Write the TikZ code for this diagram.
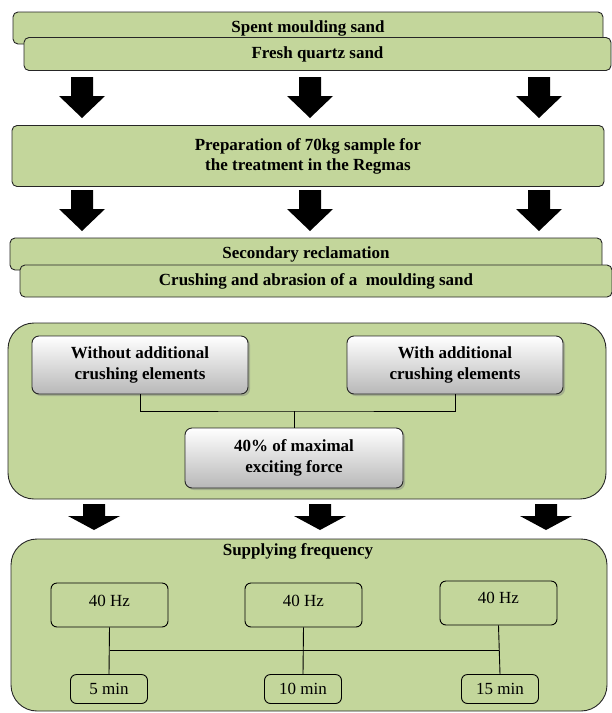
\documentclass[tikz,border=0pt]{standalone}
\usepackage{fontspec}
\setmainfont{Liberation Serif}
\usepackage{xcolor}
\definecolor{sandGreen}{HTML}{C3D69B}
\usetikzlibrary{positioning, shadows}
\tikzset{
	stagebox/.style={draw=black!85, line width=0.9pt, rounded corners=5pt, fill=sandGreen, inner sep=0pt, align=center, font=\fontsize{17}{20}\selectfont\bfseries},
	groupbox/.style={draw=black!85, line width=0.9pt, rounded corners=26pt, fill=sandGreen},
	optionbox/.style={draw=black!85, line width=0.9pt, rounded corners=7pt, top color=white, bottom color=black!28, inner sep=0pt, align=center, font=\fontsize{17}{21}\selectfont\bfseries, drop shadow={opacity=0.45, shadow xshift=2pt, shadow yshift=-2pt}},
	valuebox/.style={draw=black, line width=0.9pt, rounded corners=6pt, inner sep=0pt, font=\fontsize{17}{20}\selectfont},
	flowarr/.style={fill=black},
	linkline/.style={draw=black, line width=0.9pt},
}

\begin{document}
\begin{tikzpicture}[x=1pt, y=-1pt]
	\useasboundingbox (0,0) rectangle (612,713);
	% input sands
	\node[stagebox, minimum width=590pt, minimum height=32pt] (spent) at (308,28) {Spent moulding sand};
	\node[stagebox, minimum width=587pt, minimum height=33pt] (fresh) at (317.5,54) {Fresh quartz sand};
	\foreach \ax in {82,310,539}{
		\fill[flowarr] (\ax-11,77) -- (\ax-11,96) -- (\ax-23,96) -- (\ax,118) -- (\ax+23,96) -- (\ax+11,96) -- (\ax+11,77) -- cycle;
	}
	% sample preparation
	\node[stagebox, minimum width=592pt, minimum height=61pt] (prep) at (308,156) {Preparation of 70kg sample for\\the treatment in the Regmas};
	\foreach \ax in {82,310,539}{
		\fill[flowarr] (\ax-11,190) -- (\ax-11,209) -- (\ax-23,209) -- (\ax,231) -- (\ax+23,209) -- (\ax+11,209) -- (\ax+11,190) -- cycle;
	}
	% reclamation
	\node[stagebox, minimum width=592pt, minimum height=32pt] (secrec) at (306,254) {Secondary reclamation};
	\node[stagebox, minimum width=592pt, minimum height=32pt] (crush) at (316,281) {Crushing and abrasion of a~ moulding sand};
	% crushing variants
	\node[groupbox, minimum width=598pt, minimum height=176pt] (grpA) at (307,411) {};
	\node[optionbox, minimum width=216pt, minimum height=58pt] (without) at (140,365) {Without additional\\crushing elements};
	\node[optionbox, minimum width=216pt, minimum height=58pt] (with) at (455,365) {With additional\\crushing elements};
	\node[optionbox, minimum width=218pt, minimum height=60pt] (force) at (294,458) {40\% of maximal\\exciting force};
	\coordinate (jA) at (294,411);
	\draw[linkline] (without.south) |- (jA) -| (with.south);
	\draw[linkline] (jA) -- (force.north);
	\foreach \ax in {94,320,546}{
		\fill[flowarr] (\ax-11,504) -- (\ax-11,516) -- (\ax-26,516) -- (\ax,530) -- (\ax+26,516) -- (\ax+11,516) -- (\ax+11,504) -- cycle;
	}
	% supplying frequency
	\node[groupbox, minimum width=596pt, minimum height=172pt] (grpB) at (309,625) {};
	\node[font=\fontsize{17}{20}\selectfont\bfseries] (freqtitle) at (298,551) {Supplying frequency};
	\node[valuebox, text depth=8pt, minimum width=117pt, minimum height=44pt] (hzA) at (109.5,605) {40 Hz};
	\node[valuebox, text depth=8pt, minimum width=117pt, minimum height=44pt] (hzB) at (303.5,605) {40 Hz};
	\node[valuebox, text depth=10pt, minimum width=117pt, minimum height=44pt] (hzC) at (498.5,603) {40 Hz};
	\node[valuebox, minimum width=77pt, minimum height=29pt] (minA) at (109,689) {5 min};
	\node[valuebox, minimum width=77pt, minimum height=29pt] (minB) at (303,689) {10 min};
	\node[valuebox, minimum width=77pt, minimum height=29pt] (minC) at (500,689) {15 min};
	\coordinate (jB) at (303,650);
	\draw[linkline] (hzA.south) -- (minA.north);
	\draw[linkline] (hzB.south) -- (minB.north);
	\draw[linkline] (hzC.south) -- (minC.north);
	\draw[linkline] (hzA.south |- jB) -- (hzC.south |- jB);
\end{tikzpicture}
\end{document}
